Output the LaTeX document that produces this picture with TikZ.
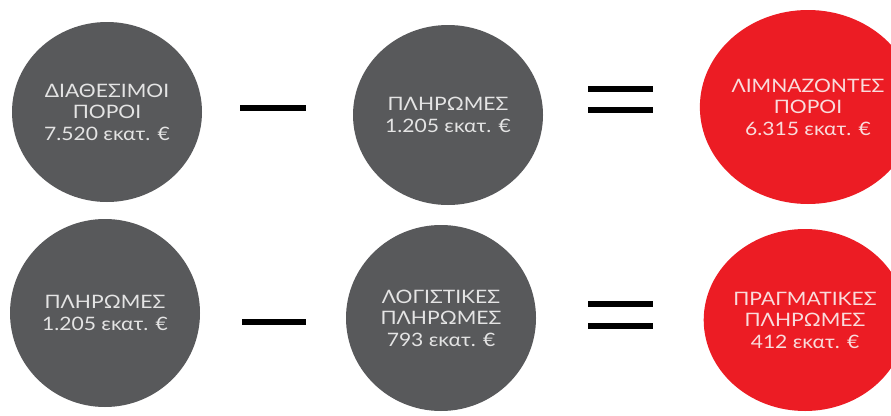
\documentclass[tikz,border=0pt]{standalone}
\usepackage{fontspec}
\setmainfont{Lato}[FakeStretch=1.14]
\usetikzlibrary{shapes.geometric}
\definecolor{discgrey}{HTML}{58595B}
\definecolor{discred}{HTML}{EC1C24}
\definecolor{textgrey}{HTML}{E4E4E4}
\definecolor{textred}{HTML}{F9DCDC}
\tikzset{
  disc/.style={ellipse,inner sep=0pt,align=center,font=\fontsize{18.5}{21.5}\selectfont},
  greydisc/.style={disc,fill=discgrey,text=textgrey,minimum width=190pt,minimum height=180pt},
  reddisc/.style={disc,fill=discred,text=textred},
  opbar/.style={fill=black}
}

\begin{document}
\begin{tikzpicture}[x=1pt,y=-1pt]
  \useasboundingbox[fill=white] (0,0) rectangle (891,415);
  % top row
  \node[greydisc] (avail) at (107,112) {ΔΙΑΘΕΣΙΜΟΙ\\ΠΟΡΟΙ\\7.520 εκατ. €};
  \node[greydisc] (paytop) at (448,115) {ΠΛΗΡΩΜΕΣ\\1.205 εκατ. €};
  \node[reddisc,minimum width=190pt,minimum height=194pt] (idle) at (808,107) {ΛΙΜΝΑΖΟΝΤΕΣ\\ΠΟΡΟΙ\\6.315 εκατ. €};
  % bottom row
  \node[greydisc,minimum height=188pt] (paybot) at (105,313) {ΠΛΗΡΩΜΕΣ\\1.205 εκατ. €};
  \node[greydisc,minimum height=186pt] (booked) at (441,318) {ΛΟΓΙΣΤΙΚΕΣ\\ΠΛΗΡΩΜΕΣ\\793 εκατ. €};
  \node[reddisc,minimum width=186pt,minimum height=182pt] (actual) at (805,320) {ΠΡΑΓΜΑΤΙΚΕΣ\\ΠΛΗΡΩΜΕΣ\\412 εκατ. €};
  % minus and equals signs
  \fill[opbar] (240,105) rectangle (306,111);
  \fill[opbar] (242,319) rectangle (306,325);
  \fill[opbar] (588,86) rectangle (653,92);
  \fill[opbar] (588,107) rectangle (653,113);
  \fill[opbar] (588,301) rectangle (653,307);
  \fill[opbar] (588,323) rectangle (653,329);
\end{tikzpicture}
\end{document}
